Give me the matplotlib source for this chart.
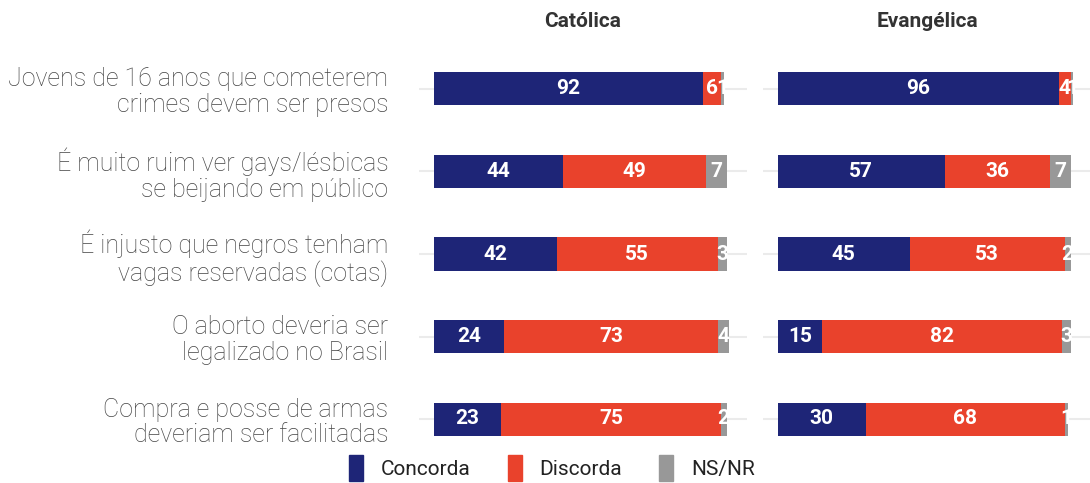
import matplotlib.pyplot as plt
from matplotlib.patches import Patch

# Dados (%)
perguntas = [
    "Jovens de 16 anos que cometerem\ncrimes devem ser presos",
    "É muito ruim ver gays/lésbicas\nse beijando em público",
    "É injusto que negros tenham\nvagas reservadas (cotas)",
    "O aborto deveria ser\nlegalizado no Brasil",
    "Compra e posse de armas\ndeveriam ser facilitadas",
]
religioes = ["Católica", "Evangélica"]
respostas = ["Concorda", "Discorda", "NS/NR"]

catolica_concorda = [92, 44, 42, 24, 23]
catolica_discorda = [6, 49, 55, 73, 75]
catolica_nsnr = [1, 7, 3, 4, 2]

evangelica_concorda = [96, 57, 45, 15, 30]
evangelica_discorda = [4, 36, 53, 82, 68]
evangelica_nsnr = [1, 7, 2, 3, 1]

cores = ["#1e2577", "#e9422c", "#989898"]

plt.rcParams["font.family"] = ["Roboto", "DejaVu Sans"]

fig = plt.figure(figsize=(10.9, 4.83), dpi=100)
W, H = 1090, 483

def painel(x0, x1):
    y_top, y_bot = 39.5, 468.5
    return fig.add_axes([x0 / W, 1 - y_bot / H, (x1 - x0) / W, (y_bot - y_top) / H])

ax1 = painel(419, 747)
ax2 = painel(763, 1091)

dados = {
    "Católica": [catolica_concorda, catolica_discorda, catolica_nsnr],
    "Evangélica": [evangelica_concorda, evangelica_discorda, evangelica_nsnr],
}

ys = list(range(len(perguntas)))
for ax, rel in zip([ax1, ax2], religioes):
    series = dados[rel]
    for y in ys:
        ax.axhline(y, color="#ebebeb", lw=1.5, zorder=0)
    left = [0] * len(perguntas)
    for serie, cor in zip(series, cores):
        ax.barh(ys, serie, left=left, height=0.4, color=cor, zorder=2)
        for y, v, l in zip(ys, serie, left):
            ax.text(l + v / 2, y, f"{v}", ha="center", va="center",
                    color="white", fontsize=15, fontweight="bold", zorder=3)
        left = [a + b for a, b in zip(left, serie)]
    ax.set_xlim(-5.1, 107)
    ax.set_ylim(4.6, -0.6)
    ax.set_xticks([])
    for s in ax.spines.values():
        s.set_visible(False)
    ax.set_title(rel, fontsize=15, fontweight="bold", color="#333333", pad=9)

ax1.set_yticks(ys)
ax1.set_yticklabels(perguntas, fontsize=18, fontweight="light", color="#444444",
                    ha="right", linespacing=1.1)
ax1.tick_params(axis="y", length=0, pad=22)
ax2.set_yticks([])

handles = [Patch(color=c) for c in cores]
fig.legend(handles, respostas, loc="center", bbox_to_anchor=(552 / W, 1 - 468 / H),
           ncol=3, frameon=False, fontsize=15, handlelength=0.67, handleheight=1.5,
           handletextpad=0.86, columnspacing=1.78, labelcolor="#222222")

fig.savefig("out.png", dpi=100)
